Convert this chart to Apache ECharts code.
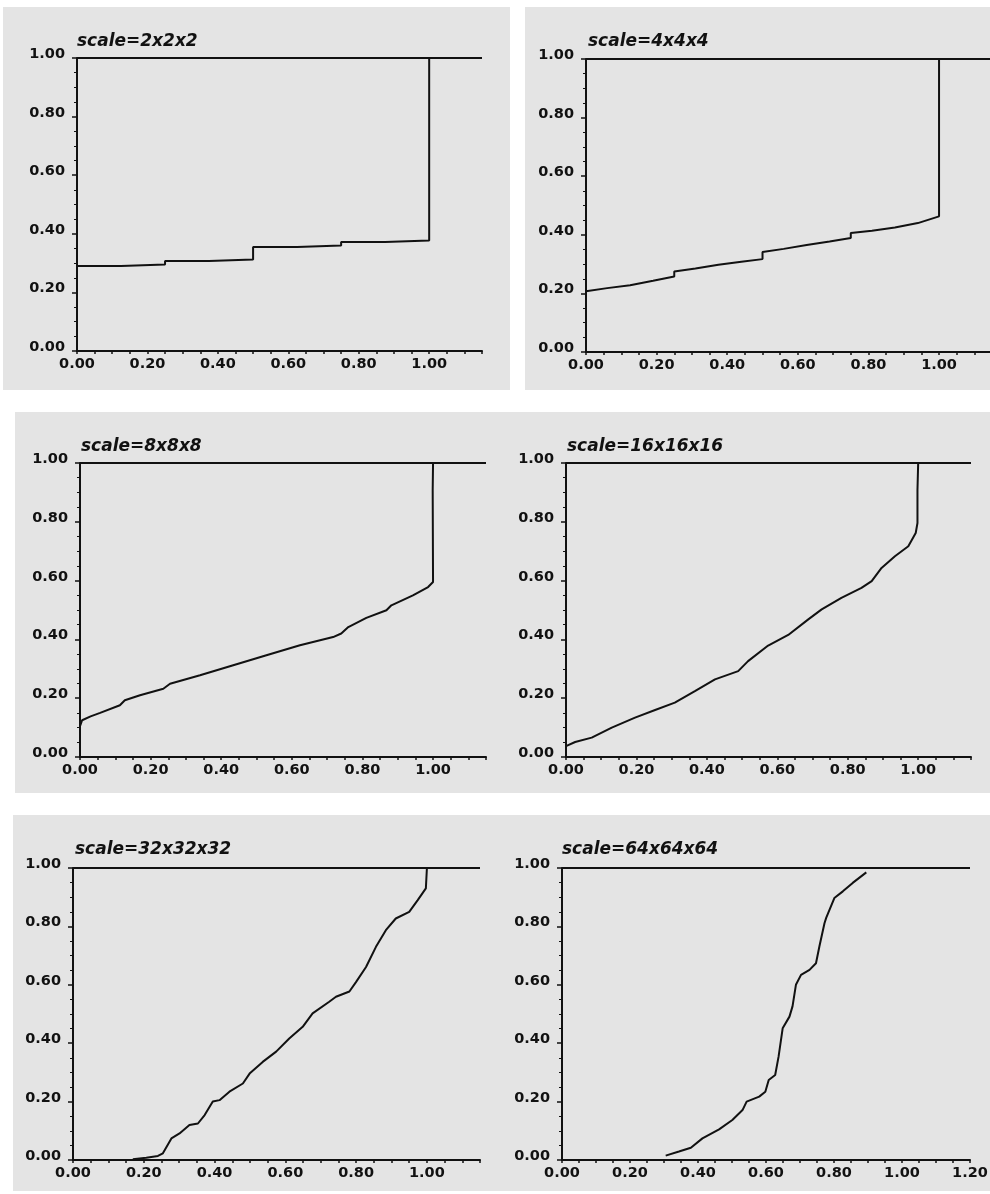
<!DOCTYPE html>
<html>
<head>
<meta charset="utf-8">
<script src="https://cdn.jsdelivr.net/npm/echarts@6/dist/echarts.min.js"></script>
<style>
  html, body { margin: 0; padding: 0; background: #ffffff; }
  #chart { width: 990px; height: 1194px; }
</style>
</head>
<body>
<div id="chart"></div>
<script>
// Panel titles
const titles = ['scale=2x2x2', 'scale=4x4x4', 'scale=8x8x8', 'scale=16x16x16', 'scale=32x32x32', 'scale=64x64x64'];

// x-axis upper limits per panel
const xMax = [1.15, 1.15, 1.15, 1.15, 1.15, 1.2];

// scale=2x2x2 : step levels (drawn as a step line, step at the end of each interval)
const p1X = [0, 0.125, 0.25, 0.375, 0.5, 0.625, 0.75, 0.875, 1.0];
const p1Y = [0.290, 0.295, 0.307, 0.312, 0.355, 0.360, 0.372, 0.377, 1.0];

// scale=4x4x4
const p2X = [0, 0.06, 0.125, 0.19, 0.25, 0.25, 0.31, 0.375, 0.44, 0.5, 0.5, 0.56, 0.625, 0.69, 0.75, 0.75, 0.81, 0.875, 0.94, 1.0, 1.0];
const p2Y = [0.207, 0.218, 0.228, 0.243, 0.258, 0.275, 0.285, 0.298, 0.308, 0.317, 0.341, 0.352, 0.365, 0.377, 0.389, 0.406, 0.414, 0.425, 0.440, 0.463, 1.0];

// scale=8x8x8
const p3X = [0, 0.006, 0.03, 0.057, 0.113, 0.127, 0.17, 0.236, 0.255, 0.34, 0.434, 0.528, 0.623, 0.717, 0.74, 0.76, 0.811, 0.868, 0.882, 0.943, 0.986, 1.0, 0.999, 1.0];
const p3Y = [0.105, 0.125, 0.138, 0.150, 0.176, 0.193, 0.210, 0.232, 0.249, 0.278, 0.312, 0.346, 0.380, 0.408, 0.420, 0.442, 0.473, 0.499, 0.516, 0.550, 0.578, 0.595, 0.907, 1.0];

// scale=16x16x16
const p4X = [0, 0.026, 0.073, 0.13, 0.196, 0.253, 0.309, 0.366, 0.423, 0.489, 0.517, 0.574, 0.631, 0.688, 0.726, 0.782, 0.839, 0.868, 0.896, 0.934, 0.972, 0.993, 0.998, 0.998, 1.0];
const p4Y = [0.037, 0.051, 0.066, 0.100, 0.134, 0.160, 0.185, 0.224, 0.264, 0.292, 0.326, 0.379, 0.415, 0.468, 0.502, 0.541, 0.575, 0.598, 0.643, 0.683, 0.717, 0.762, 0.796, 0.909, 1.0];

// scale=32x32x32
const p5X = [0.169, 0.207, 0.24, 0.254, 0.278, 0.301, 0.329, 0.353, 0.372, 0.395, 0.414, 0.442, 0.48, 0.499, 0.536, 0.574, 0.611, 0.649, 0.677, 0.724, 0.743, 0.781, 0.8, 0.828, 0.856, 0.884, 0.912, 0.95, 0.974, 0.997, 1.0];
const p5Y = [0.003, 0.008, 0.014, 0.023, 0.074, 0.091, 0.120, 0.125, 0.154, 0.200, 0.205, 0.234, 0.262, 0.296, 0.336, 0.371, 0.416, 0.456, 0.502, 0.542, 0.559, 0.577, 0.610, 0.661, 0.730, 0.787, 0.827, 0.850, 0.890, 0.930, 1.0];

// scale=64x64x64
const p6X = [0.305, 0.344, 0.379, 0.413, 0.462, 0.501, 0.531, 0.543, 0.58, 0.598, 0.608, 0.627, 0.637, 0.649, 0.669, 0.678, 0.688, 0.703, 0.728, 0.747, 0.757, 0.772, 0.777, 0.801, 0.826, 0.855, 0.895];
const p6Y = [0.015, 0.029, 0.042, 0.074, 0.105, 0.137, 0.171, 0.200, 0.217, 0.234, 0.274, 0.291, 0.354, 0.451, 0.491, 0.526, 0.600, 0.634, 0.651, 0.674, 0.731, 0.811, 0.829, 0.897, 0.920, 0.949, 0.985];

const seriesX = [p1X, p2X, p3X, p4X, p5X, p6X];
const seriesY = [p1Y, p2Y, p3Y, p4Y, p5Y, p6Y];

// Plot-area boxes in pixels: [left, top, width, height]
const grids = [
  [77, 58, 405, 293],
  [586, 59, 406, 293],
  [80, 463, 406, 294],
  [566, 463, 405, 294],
  [73, 868, 407, 292],
  [562, 868, 408, 292]
];
// Title anchors: [left, top]
const titlePos = [[77, 33], [588, 33], [81, 438], [567, 438], [75, 841], [562, 841]];
// Shaded panel backgrounds: [x, y, w, h]
const panels = [
  [3, 7, 507, 383], [525, 7, 465, 383],
  [15, 412, 480, 381], [495, 412, 495, 381],
  [13, 815, 482, 376], [495, 815, 495, 376]
];

const INK = '#111111';
const labelFont = { fontFamily: 'DejaVu Sans', fontWeight: 'bold', fontSize: 14.5, color: INK };

function fmtX(v) {
  const k = Math.round(v / 0.05);
  return k % 4 === 0 ? (k * 0.05).toFixed(2) : '';
}

const option = {
  animation: false,
  backgroundColor: '#ffffff',
  graphic: {
    elements: panels.map(p => ({
      type: 'rect', silent: true, z: -10,
      shape: { x: p[0], y: p[1], width: p[2], height: p[3] },
      style: { fill: '#e4e4e4' }
    }))
  },
  title: titles.map((t, i) => ({
    text: t,
    left: titlePos[i][0],
    top: titlePos[i][1],
    padding: 0,
    textStyle: { fontFamily: 'DejaVu Sans', fontWeight: 'bold', fontStyle: 'italic', fontSize: 17, color: INK }
  })),
  grid: grids.map(g => ({ left: g[0], top: g[1], width: g[2], height: g[3], containLabel: false, outerBoundsMode: 'none' })),
  xAxis: grids.map((g, i) => ({
    type: 'value', gridIndex: i, min: 0, max: xMax[i], interval: 0.05,
    axisLine: { show: true, onZero: false, lineStyle: { color: INK, width: 2 } },
    axisTick: { show: true, length: 3, lineStyle: { color: INK, width: 1.5 } },
    axisLabel: Object.assign({ margin: 6, formatter: fmtX, showMinLabel: true, showMaxLabel: true }, labelFont),
    splitLine: { show: false }
  })),
  yAxis: grids.map((g, i) => ({
    type: 'value', gridIndex: i, min: 0, max: 1, interval: 0.2,
    axisLine: { show: true, onZero: false, lineStyle: { color: INK, width: 2 } },
    axisTick: { show: true, length: 5, lineStyle: { color: INK, width: 1.5 } },
    minorTick: { show: true, splitNumber: 4, length: 3, lineStyle: { color: INK, width: 1 } },
    axisLabel: Object.assign({ margin: 12, verticalAlign: 'bottom', lineHeight: 7.5, formatter: v => v.toFixed(2) }, labelFont),
    splitLine: { show: false }
  })),
  series: seriesX.map((xs, i) => ({
    type: 'line',
    xAxisIndex: i, yAxisIndex: i,
    step: i === 0 ? 'end' : false,
    showSymbol: false,
    silent: true,
    lineStyle: { color: INK, width: 2 },
    data: xs.map((x, j) => [x, seriesY[i][j]]),
    markLine: {
      silent: true, symbol: 'none',
      label: { show: false },
      lineStyle: { color: INK, width: 2, type: 'solid' },
      data: [{ yAxis: 1 }]
    }
  }))
};

const chart = echarts.init(document.getElementById('chart'), null, { renderer: 'canvas' });
chart.setOption(option);
</script>
</body>
</html>
